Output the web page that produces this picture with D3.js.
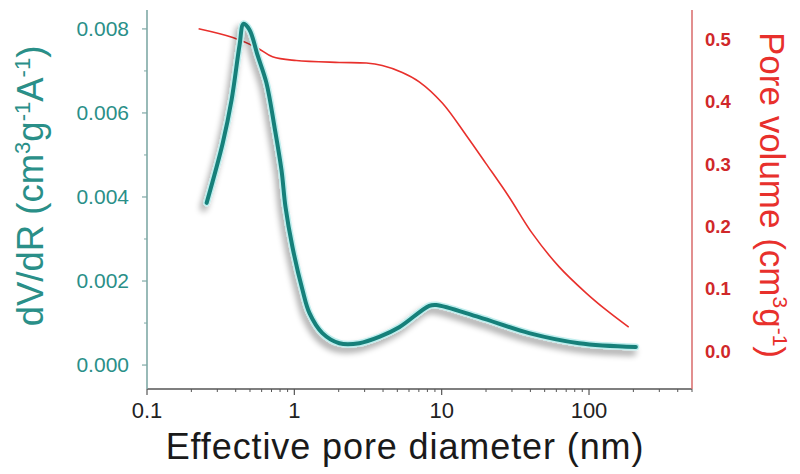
<!DOCTYPE html>
<html>
<head>
<meta charset="utf-8">
<script src="https://cdn.jsdelivr.net/npm/d3@7"></script>
<style>
  html, body { margin: 0; padding: 0; background: #ffffff; }
  svg { display: block; font-family: "Liberation Sans", Arial, sans-serif; }
</style>
</head>
<body>
<svg id="chart" width="800" height="474"></svg>
<script>
// Pore size distribution (dV/dR) and cumulative pore volume vs. effective pore diameter
const diameterPSD = [0.254, 0.327, 0.375, 0.425, 0.452, 0.496, 0.562, 0.647, 0.733, 0.818, 0.871, 0.971,
  1.135, 1.265, 1.55, 2.02, 2.76, 3.77, 5.15, 8.23, 9.18, 17.9, 39.2, 85.5, 208];
const dVdR = [0.00386, 0.00529, 0.00631, 0.00762, 0.00812, 0.00798, 0.00738, 0.00671, 0.00567, 0.00464,
  0.00376, 0.00281, 0.00179, 0.00124, 0.00076, 0.00052, 0.00052, 0.00067, 0.00090, 0.00141, 0.00143,
  0.00114, 0.00076, 0.00052, 0.00043];

const diameterCum = [0.224, 0.382, 0.554, 0.711, 1.03, 2.02, 3.08, 3.95, 5.4, 7.04, 10.1, 14.7, 20,
  28.6, 41, 62.5, 95.3, 130, 186];
const poreVolume = [0.516, 0.502, 0.486, 0.471, 0.465, 0.462, 0.461, 0.457, 0.446, 0.431, 0.397, 0.345,
  0.300, 0.247, 0.189, 0.135, 0.093, 0.066, 0.038];

const xTicks = [0.1, 1, 10, 100];
const leftTicks = [0, 0.002, 0.004, 0.006, 0.008];
const rightTicks = [0, 0.1, 0.2, 0.3, 0.4, 0.5];

const teal = "#16807a";
const tealText = "#2a8f88";
const red = "#e8302c";
const redText = "#d0282a";

const svg = d3.select("#chart");
const plotLeft = 147, plotRight = 692, plotTop = 10, plotBottom = 389;

const x = d3.scaleLog().domain([0.1, 500]).range([plotLeft, plotRight]);
const yL = d3.scaleLinear().domain([-0.00057, 0.00845]).range([plotBottom, plotTop]);
const yR = d3.scaleLinear().domain([-0.061, 0.546]).range([plotBottom, plotTop]);

// soft shadow under the distribution curve
const defs = svg.append("defs");
const f = defs.append("filter").attr("id", "shadow")
  .attr("x", "-20%").attr("y", "-20%").attr("width", "140%").attr("height", "140%");
f.append("feGaussianBlur").attr("in", "SourceAlpha").attr("stdDeviation", 3).attr("result", "blur");
f.append("feOffset").attr("in", "blur").attr("dx", -3).attr("dy", 5).attr("result", "off");
f.append("feComponentTransfer").attr("in", "off").attr("result", "shade")
  .append("feFuncA").attr("type", "linear").attr("slope", 0.35);
const m = f.append("feMerge");
m.append("feMergeNode").attr("in", "shade");
m.append("feMergeNode").attr("in", "SourceGraphic");

// x axis
const xAxis = svg.append("g").attr("transform", `translate(0,${plotBottom})`);
const xMinor = [];
xTicks.forEach(d => { for (let k = 2; k <= 9; k++) { const v = d * k; if (v <= 500) xMinor.push(v); } });
xAxis.append("line").attr("x1", plotLeft).attr("x2", plotRight).attr("stroke", "#555").attr("stroke-width", 1.5);
xAxis.selectAll("line.minor").data(xMinor).join("line").attr("class", "minor")
  .attr("x1", d => x(d)).attr("x2", d => x(d)).attr("y1", 0).attr("y2", 3)
  .attr("stroke", "#555").attr("stroke-width", 1);
xAxis.selectAll("line.major").data(xTicks).join("line").attr("class", "major")
  .attr("x1", d => x(d)).attr("x2", d => x(d)).attr("y1", 0).attr("y2", 6)
  .attr("stroke", "#555").attr("stroke-width", 1.2);
xAxis.selectAll("text").data(xTicks).join("text")
  .attr("x", d => x(d)).attr("y", 29).attr("text-anchor", "middle")
  .attr("font-size", 22).attr("fill", "#222").text(d => d3.format("~g")(d));

svg.append("text").attr("x", 405).attr("y", 459).attr("text-anchor", "middle")
  .attr("font-size", 36).attr("letter-spacing", 0.9).attr("fill", "#1a1a1a").text("Effective pore diameter (nm)");

// left axis
const yAxisL = svg.append("g");
yAxisL.append("line").attr("x1", plotLeft).attr("x2", plotLeft).attr("y1", plotTop).attr("y2", plotBottom)
  .attr("stroke", "#7fa9a6").attr("stroke-width", 1.6);
const leftMinor = [0.001, 0.003, 0.005, 0.007];
yAxisL.selectAll("line.minor").data(leftMinor).join("line").attr("class", "minor")
  .attr("x1", plotLeft - 3).attr("x2", plotLeft).attr("y1", d => yL(d)).attr("y2", d => yL(d))
  .attr("stroke", "#7fa9a6").attr("stroke-width", 1);
yAxisL.selectAll("line.major").data(leftTicks).join("line").attr("class", "major")
  .attr("x1", plotLeft - 5).attr("x2", plotLeft).attr("y1", d => yL(d)).attr("y2", d => yL(d))
  .attr("stroke", "#7fa9a6").attr("stroke-width", 1.2);
yAxisL.selectAll("text").data(leftTicks).join("text")
  .attr("x", plotLeft - 18).attr("y", d => yL(d) + 7).attr("text-anchor", "end")
  .attr("font-size", 21).attr("fill", tealText).text(d => d3.format(".3f")(d));

const tL = svg.append("text").attr("transform", "translate(43,186) rotate(-90)")
  .attr("text-anchor", "middle").attr("font-size", 36.5).attr("fill", tealText);
tL.append("tspan").text("dV/dR (cm");
tL.append("tspan").attr("font-size", 22).attr("dy", -13).text("3");
tL.append("tspan").attr("dy", 13).text("g");
tL.append("tspan").attr("font-size", 22).attr("dy", -13).text("-1");
tL.append("tspan").attr("dy", 13).text("A");
tL.append("tspan").attr("font-size", 22).attr("dy", -13).text("-1");
tL.append("tspan").attr("dy", 13).text(")");

// right axis
const yAxisR = svg.append("g");
yAxisR.append("line").attr("x1", plotRight).attr("x2", plotRight).attr("y1", plotTop).attr("y2", plotBottom)
  .attr("stroke", "#d96a6a").attr("stroke-width", 1.5);
yAxisR.selectAll("text").data(rightTicks).join("text")
  .attr("x", plotRight + 13).attr("y", d => yR(d) + 7).attr("text-anchor", "start")
  .attr("font-size", 18.5).attr("font-weight", "bold").attr("fill", redText).text(d => d3.format(".1f")(d));

const tR = svg.append("text").attr("transform", "translate(760,195) rotate(90)")
  .attr("text-anchor", "middle").attr("font-size", 35).attr("fill", red);
tR.append("tspan").text("Pore volume (cm");
tR.append("tspan").attr("font-size", 21).attr("dy", -13).text("3");
tR.append("tspan").attr("dy", 13).text("g");
tR.append("tspan").attr("font-size", 21).attr("dy", -13).text("-1");
tR.append("tspan").attr("dy", 13).text(")");

// curves
const cumLine = d3.line().x((d, i) => x(diameterCum[i])).y(d => yR(d)).curve(d3.curveCatmullRom.alpha(0.5));
svg.append("path").datum(poreVolume).attr("d", cumLine)
  .attr("fill", "none").attr("stroke", red).attr("stroke-width", 1.6);

const psdLine = d3.line().x((d, i) => x(diameterPSD[i])).y(d => yL(d)).curve(d3.curveCatmullRom.alpha(0.5));
svg.append("path").datum(dVdR).attr("d", psdLine)
  .attr("fill", "none").attr("stroke", "#bfeeee").attr("stroke-width", 7).attr("stroke-linecap", "round")
  .attr("filter", "url(#shadow)");
svg.append("path").datum(dVdR).attr("d", psdLine)
  .attr("fill", "none").attr("stroke", teal).attr("stroke-width", 4).attr("stroke-linecap", "round");
</script>
</body>
</html>
